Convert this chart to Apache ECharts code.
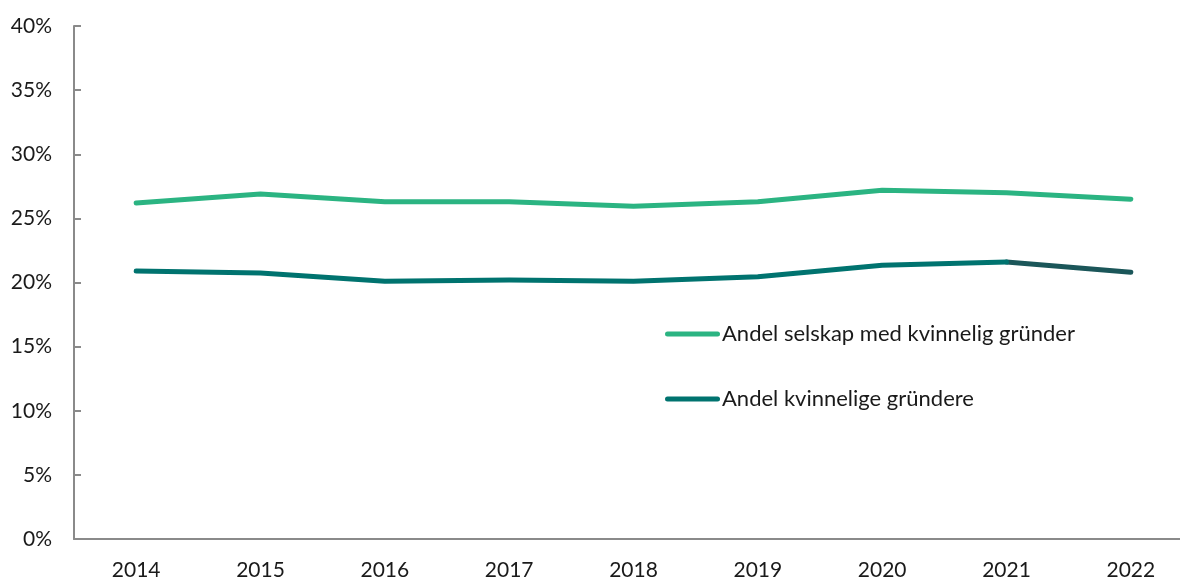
<!DOCTYPE html>
<html>
<head>
<meta charset="utf-8">
<title>Andel kvinnelige gründere</title>
<script src="https://cdn.jsdelivr.net/npm/echarts@6/dist/echarts.min.js"></script>
<style>
  html, body { margin: 0; padding: 0; background: #ffffff; }
  #chart { width: 1180px; height: 578px; }
</style>
</head>
<body>
<div id="chart"></div>
<script>
// Years on the category axis
const years = ['2014', '2015', '2016', '2017', '2018', '2019', '2020', '2021', '2022'];

// Share of companies with at least one female founder (%)
const andelSelskap = [26.2, 26.9, 26.3, 26.3, 25.95, 26.3, 27.2, 27.0, 26.5];

// Share of founders who are women (%)
const andelGrundere = [20.9, 20.75, 20.1, 20.2, 20.1, 20.45, 21.35, 21.6, 20.8];

// Series names shown in the legend
const seriesNames = ['Andel selskap med kvinnelig gründer', 'Andel kvinnelige gründere'];

// Y-axis range and step (%)
const yMin = 0, yMax = 40, yStep = 5;

// The last year-on-year segment of the founder share is drawn in a darker shade
const lastSegmentStart = years.length - 2;

const FONT = 'Lato, "Open Sans", sans-serif';
const GREEN = '#2bb482';
const TEAL = '#00736f';
const TEAL_DARK = '#1b5659';
const AXIS = '#8a8a8a';
const TEXT = '#1a1a1a';

// Split the founder-share series into the main run and the final segment
const grundereMain = andelGrundere.map((v, i) => (i <= lastSegmentStart ? v : '-'));
const grundereLast = andelGrundere.map((v, i) => (i >= lastSegmentStart ? v : '-'));

const chart = echarts.init(document.getElementById('chart'), null, { renderer: 'canvas' });

// Rounded bar used as the legend marker
const legendIcon = 'path://M2.5,0 L52.5,0 A2.5,2.5 0 0 1 52.5,5 L2.5,5 A2.5,2.5 0 0 1 2.5,0 Z';

const lineBase = {
  type: 'line',
  showSymbol: false,
  symbol: 'none',
  connectNulls: false,
  z: 3
};

chart.setOption({
  animation: false,
  backgroundColor: '#ffffff',
  textStyle: { fontFamily: FONT },
  // The plot area runs past the right edge of the canvas; the x-axis is cut there
  grid: { left: 74, top: 26, bottom: 39, width: 1119, containLabel: false, outerBoundsMode: 'none' },
  legend: {
    orient: 'vertical',
    left: 665,
    top: 322,
    padding: 0,
    itemWidth: 55,
    itemHeight: 5,
    itemGap: 41,
    icon: legendIcon,
    textStyle: { fontFamily: FONT, fontSize: 22, color: TEXT, lineHeight: 24, padding: [0, 0, 0, -3] },
    data: seriesNames
  },
  xAxis: {
    type: 'category',
    data: years,
    boundaryGap: true,
    axisLine: { lineStyle: { color: AXIS, width: 2 } },
    axisTick: { show: false },
    axisLabel: { fontFamily: FONT, fontSize: 21, color: TEXT, margin: 21 },
    splitLine: { show: false }
  },
  yAxis: {
    type: 'value',
    min: yMin,
    max: yMax,
    interval: yStep,
    axisLine: { show: true, lineStyle: { color: AXIS, width: 2 } },
    axisTick: { show: true, inside: true, length: 7, lineStyle: { color: AXIS, width: 2 } },
    axisLabel: { fontFamily: FONT, fontSize: 21, color: TEXT, margin: 22, formatter: '{value}%' },
    splitLine: { show: false }
  },
  series: [
    Object.assign({}, lineBase, {
      name: seriesNames[0],
      data: andelSelskap,
      color: GREEN,
      lineStyle: { color: GREEN, width: 5, cap: 'round', join: 'round' }
    }),
    Object.assign({}, lineBase, {
      name: seriesNames[1],
      data: grundereMain,
      color: TEAL,
      lineStyle: { color: TEAL, width: 5, cap: 'round', join: 'round' }
    }),
    Object.assign({}, lineBase, {
      name: seriesNames[1] + ' (siste år)',
      data: grundereLast,
      color: TEAL_DARK,
      lineStyle: { color: TEAL_DARK, width: 5, cap: 'round', join: 'round' },
      z: 2
    })
  ]
});
</script>
</body>
</html>
